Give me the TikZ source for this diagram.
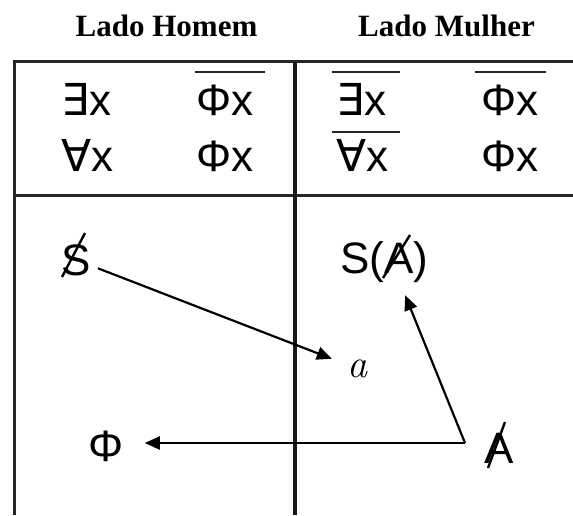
\documentclass[tikz,border=0pt]{standalone}
\usepackage{fontspec}
\setmainfont{Liberation Serif}
\newfontfamily\lsans{Liberation Sans}
\newfontfamily\dsans{DejaVu Sans}
\newfontfamily\lmroman{Latin Modern Roman}
\usetikzlibrary{arrows.meta}
\begin{document}
\begin{tikzpicture}[x=1pt,y=-1pt,
  frame/.style={line width=3.8pt, black!85},
  midline/.style={line width=3.2pt, black!90},
  title/.style={font=\bfseries\fontsize{31}{31}\selectfont, inner sep=0pt, anchor=base},
  hdr/.style={font=\lsans\fontsize{44}{44}\selectfont, inner sep=0pt, anchor=base west},
  body/.style={font=\lsans\fontsize{44}{44}\selectfont, inner sep=0pt},
  ov/.style={line width=2.8pt, black!85},
  arr/.style={line width=2.2pt, -{Triangle[length=15pt,width=13pt]}},
  slash/.style={line width=2.4pt}
]
\useasboundingbox (0,0) rectangle (573,515);
\fill[white] (0,0) rectangle (573,515);
% titles
\node[title] (lh) at (166.5,36) {Lado Homem};
\node[title] (lm) at (446.5,36) {Lado Mulher};
% frame
\draw[frame, line join=miter] (573,61.5) -- (14.5,61.5) -- (14.5,515);
\draw[frame] (14.5,195.5) -- (573,195.5);
\draw[midline] (295,61.5) -- (295,515);
% header
\node[hdr] (e1) at (61,115) {{\dsans ∃}x};
\node[hdr] (p1) at (196,115) {Φx};
\node[hdr] (a1) at (61,171) {{\dsans ∀}x};
\node[hdr] (p2) at (196,171) {Φx};
\node[hdr] (e2) at (336,115) {{\dsans ∃}x};
\node[hdr] (p3) at (481,115) {Φx};
\node[hdr] (a2) at (336,171) {{\dsans ∀}x};
\node[hdr] (p4) at (481,171) {Φx};
\draw[ov] (195,72) -- (265,72);
\draw[ov] (332,72) -- (400,72);
\draw[ov] (332,132) -- (400,132);
\draw[ov] (475,72) -- (546,72);
% body
\node[body] (s) at (76.5,260) {S};
\draw[slash] (62,277) -- (85,233);
\node[body, anchor=base west] (sa) at (340,273) {S(A)};
\draw[slash] (383,278) -- (410,235);
\node[font=\lmroman\itshape\fontsize{40}{40}\selectfont, inner sep=0pt] (a) at (357,368.5) {a};
\node[body] (phi) at (106,446.5) {Φ};
\node[body, anchor=base west] (abar) at (484,463) {A};
\draw[slash] (488,468) -- (505,422);
\coordinate (v) at (465,443);
% arrows
\draw[arr, shorten <=23pt, shorten >=27pt] (s.center) -- (a.center);
\draw[arr, shorten >=21pt] (v) -- (v -| phi.east);
\draw[arr] (v) -- ([xshift=21pt,yshift=-13pt]sa.south);
\end{tikzpicture}
\end{document}
